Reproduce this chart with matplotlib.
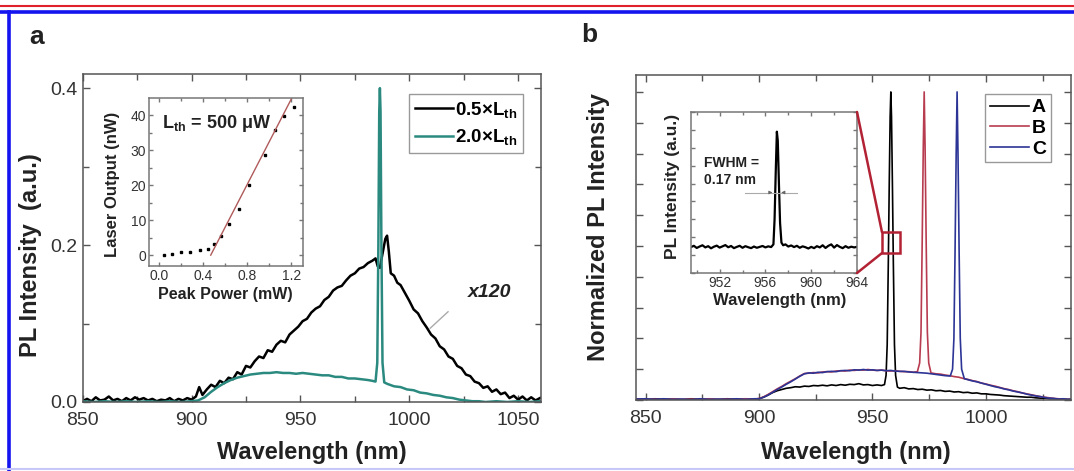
import matplotlib
matplotlib.use('Agg')
import matplotlib.pyplot as plt
import numpy as np
from matplotlib.lines import Line2D
from matplotlib.patches import Rectangle, ConnectionPatch
from matplotlib.ticker import MultipleLocator, NullFormatter

plt.rcParams['font.family'] = ['Liberation Sans', 'DejaVu Sans']
plt.rcParams['mathtext.fontset'] = 'custom'
plt.rcParams['mathtext.rm'] = 'Liberation Sans'
plt.rcParams['mathtext.bf'] = 'Liberation Sans:bold'
plt.rcParams['mathtext.it'] = 'Liberation Sans:italic'

# ---- panel a: PL spectra below / above threshold (wavelength nm, intensity a.u.)
a_below = [(850, 0.001), (852, 0.004), (854, 0.001), (856, 0.006), (858, 0.002), (860, 0.003),
           (862, 0.007), (864, 0.002), (866, 0.004), (868, 0.001), (870, 0.005), (872, 0.002),
           (874, 0.006), (876, 0.003), (878, 0.005), (880, 0.002), (882, 0.004), (884, 0.001),
           (886, 0.003), (888, 0.002), (890, 0.005), (892, 0.001), (894, 0.004), (896, 0.002),
           (898, 0.005), (900, 0.003), (902, 0.007), (903.5, 0.019), (905, 0.009), (907, 0.016),
           (909, 0.022), (911, 0.019), (913, 0.027), (915, 0.024), (917, 0.031), (919, 0.029),
           (921, 0.038), (923, 0.035), (925, 0.046), (927, 0.044), (929, 0.052), (931, 0.058),
           (933, 0.056), (935, 0.066), (937, 0.064), (939, 0.073), (941, 0.078), (943, 0.076),
           (945, 0.086), (947, 0.091), (949, 0.096), (951, 0.103), (953, 0.106), (955, 0.114),
           (957, 0.119), (959, 0.122), (961, 0.130), (963, 0.134), (965, 0.142), (967, 0.146),
           (969, 0.148), (971, 0.155), (973, 0.161), (975, 0.164), (977, 0.170), (979, 0.172),
           (981, 0.177), (983, 0.180), (984.5, 0.183), (985.5, 0.173), (986.5, 0.171),
           (987.5, 0.186), (989, 0.208), (989.8, 0.212), (990.6, 0.192), (991.5, 0.164),
           (993, 0.161), (994.5, 0.152), (996, 0.149), (998, 0.139), (1000, 0.129), (1002, 0.118),
           (1004, 0.113), (1006, 0.103), (1008, 0.095), (1010, 0.086), (1012, 0.081), (1014, 0.071),
           (1016, 0.067), (1018, 0.058), (1020, 0.055), (1022, 0.046), (1024, 0.043), (1026, 0.035),
           (1028, 0.033), (1030, 0.026), (1032, 0.024), (1034, 0.018), (1036, 0.020), (1038, 0.013),
           (1040, 0.016), (1042, 0.010), (1044, 0.012), (1046, 0.005), (1048, 0.008), (1050, 0.003),
           (1052, 0.007), (1054, 0.002), (1056, 0.006), (1058, 0.002), (1060, 0.005)]

a_above = [(850, 0.001), (855, 0.000), (860, 0.001), (865, 0.000), (870, 0.001), (875, 0.000),
           (880, 0.001), (885, 0.000), (890, 0.001), (895, 0.000), (900, 0.001), (903, 0.002),
           (906, 0.006), (909, 0.013), (912, 0.019), (915, 0.024), (918, 0.028), (921, 0.031),
           (924, 0.033), (927, 0.035), (930, 0.036), (933, 0.037), (936, 0.037), (939, 0.038),
           (942, 0.037), (945, 0.037), (948, 0.036), (951, 0.037), (954, 0.036), (957, 0.035),
           (960, 0.034), (963, 0.034), (966, 0.032), (969, 0.032), (972, 0.030), (975, 0.030),
           (978, 0.029), (981, 0.028), (983, 0.027), (984.5, 0.026), (985.3, 0.05), (985.8, 0.2),
           (986.2, 0.37), (986.5, 0.40), (986.8, 0.37), (987.2, 0.2), (987.7, 0.05), (988.5, 0.025),
           (990, 0.023), (993, 0.020), (996, 0.019), (999, 0.016), (1002, 0.015), (1005, 0.012),
           (1008, 0.011), (1011, 0.009), (1014, 0.008), (1017, 0.006), (1020, 0.005), (1023, 0.003),
           (1026, 0.002), (1029, 0.001), (1032, 0.001), (1035, 0.000), (1040, 0.001), (1045, 0.000),
           (1050, 0.001), (1055, 0.000), (1060, 0.001)]

# inset a: light-in / light-out
peak_power = [0.037, 0.115, 0.20, 0.28, 0.366, 0.444, 0.50, 0.557, 0.635, 0.72, 0.81,
              0.964, 1.05, 1.136, 1.227]
laser_out = [0.0, 0.3, 0.76, 1.0, 1.4, 1.9, 3.3, 5.4, 8.9, 13.3, 20.0, 28.6, 35.7, 39.7, 42.4]
fit_x = [0.466, 1.205]
fit_y = [0.0, 45.0]

# ---- panel b: normalized spectra of three cavities
b_A = [(846, 0.003), (850, 0.001), (854, 0.004), (858, 0.002), (862, 0.003), (866, 0.001),
       (870, 0.004), (874, 0.002), (878, 0.003), (882, 0.001), (886, 0.004), (890, 0.002),
       (894, 0.003), (898, 0.002), (900, 0.004), (902, 0.009), (904, 0.016), (906, 0.024),
       (908, 0.030), (910, 0.034), (912, 0.038), (914, 0.040), (916, 0.043), (918, 0.042),
       (920, 0.045), (922, 0.044), (924, 0.047), (926, 0.046), (928, 0.048), (930, 0.046),
       (932, 0.049), (934, 0.047), (936, 0.050), (938, 0.048), (940, 0.051), (942, 0.050),
       (944, 0.053), (946, 0.049), (948, 0.050), (950, 0.047), (952, 0.049), (954, 0.047),
       (955.3, 0.050), (956.0, 0.08), (956.5, 0.18), (957.0, 0.45), (957.4, 0.70),
       (957.8, 0.92), (958.1, 1.0), (958.4, 0.92), (958.8, 0.70), (959.2, 0.45),
       (959.7, 0.18), (960.2, 0.08), (961.0, 0.042), (962, 0.038), (964, 0.040), (966, 0.036),
       (968, 0.037), (970, 0.034), (972, 0.035), (974, 0.032), (976, 0.033), (978, 0.030),
       (980, 0.031), (982, 0.028), (984, 0.029), (986, 0.026), (988, 0.027), (990, 0.024),
       (992, 0.025), (994, 0.022), (996, 0.023), (998, 0.020), (1000, 0.020), (1002, 0.018),
       (1004, 0.017), (1006, 0.016), (1008, 0.014), (1010, 0.013), (1012, 0.012), (1014, 0.011),
       (1016, 0.010), (1018, 0.009), (1020, 0.009), (1022, 0.007), (1024, 0.006), (1026, 0.006),
       (1028, 0.004), (1030, 0.004), (1032, 0.003), (1034, 0.003), (1036, 0.002), (1038, 0.002)]

b_B = [(846, 0.004), (850, 0.002), (854, 0.003), (858, 0.001), (862, 0.004), (866, 0.002),
       (870, 0.003), (874, 0.002), (878, 0.004), (882, 0.002), (886, 0.003), (890, 0.002),
       (894, 0.004), (898, 0.003), (900, 0.005), (902, 0.010), (904, 0.018), (906, 0.027),
       (908, 0.036), (910, 0.044), (912, 0.053), (914, 0.061), (916, 0.069), (918, 0.078),
       (920, 0.086), (922, 0.087), (924, 0.089), (926, 0.088), (928, 0.091), (930, 0.092),
       (932, 0.091), (934, 0.094), (936, 0.095), (938, 0.094), (940, 0.097), (942, 0.096),
       (944, 0.098), (946, 0.097), (948, 0.099), (950, 0.097), (952, 0.096), (954, 0.097),
       (956, 0.095), (958, 0.094), (960, 0.095), (962, 0.093), (964, 0.092), (966, 0.092),
       (968, 0.090), (969.8, 0.092), (970.8, 0.12), (971.4, 0.22), (971.9, 0.50),
       (972.4, 0.82), (972.8, 1.0), (973.2, 0.82), (973.7, 0.50), (974.2, 0.22),
       (974.8, 0.12), (975.8, 0.088), (978, 0.085), (980, 0.084),
       (982, 0.081), (984, 0.079), (986, 0.076), (988, 0.074), (990, 0.070), (992, 0.067),
       (994, 0.063), (996, 0.060), (998, 0.055), (1000, 0.052), (1002, 0.048), (1004, 0.045),
       (1006, 0.041), (1008, 0.037), (1010, 0.034), (1012, 0.030), (1014, 0.027), (1016, 0.023),
       (1018, 0.020), (1020, 0.017), (1022, 0.014), (1024, 0.011), (1026, 0.009), (1028, 0.007),
       (1030, 0.005), (1032, 0.004), (1034, 0.003), (1036, 0.002), (1038, 0.002)]

b_C = [(846, 0.003), (850, 0.004), (854, 0.002), (858, 0.004), (862, 0.002), (866, 0.003),
       (870, 0.001), (874, 0.004), (878, 0.002), (882, 0.003), (886, 0.002), (890, 0.004),
       (894, 0.002), (898, 0.004), (900, 0.004), (902, 0.009), (904, 0.016), (906, 0.025),
       (908, 0.034), (910, 0.042), (912, 0.051), (914, 0.059), (916, 0.068), (918, 0.077),
       (920, 0.085), (922, 0.088), (924, 0.087), (926, 0.090), (928, 0.089), (930, 0.092),
       (932, 0.093), (934, 0.092), (936, 0.095), (938, 0.096), (940, 0.095), (942, 0.098),
       (944, 0.097), (946, 0.099), (948, 0.097), (950, 0.098), (952, 0.096), (954, 0.097),
       (956, 0.095), (958, 0.096), (960, 0.094), (962, 0.093), (964, 0.093), (966, 0.091),
       (968, 0.090), (970, 0.089), (972, 0.088), (974, 0.087), (976, 0.085), (978, 0.083),
       (980, 0.081), (982, 0.079), (984.3, 0.078), (985.3, 0.10), (985.9, 0.20),
       (986.4, 0.48), (986.9, 0.80), (987.3, 1.0), (987.7, 0.80), (988.2, 0.48),
       (988.7, 0.20), (989.3, 0.10), (990.5, 0.069), (992, 0.066),
       (994, 0.062), (996, 0.059), (998, 0.055), (1000, 0.051), (1002, 0.047), (1004, 0.043),
       (1006, 0.040), (1008, 0.036), (1010, 0.033), (1012, 0.029), (1014, 0.026), (1016, 0.023),
       (1018, 0.019), (1020, 0.016), (1022, 0.013), (1024, 0.011), (1026, 0.008), (1028, 0.006),
       (1030, 0.005), (1032, 0.003), (1034, 0.004), (1036, 0.002), (1038, 0.003)]

# inset b: high resolution spectrum of cavity A
hr = [(949.5, 0.145), (949.75, 0.152), (950.0, 0.140), (950.25, 0.148), (950.5, 0.155),
      (950.75, 0.143), (951.0, 0.150), (951.25, 0.138), (951.5, 0.147), (951.75, 0.153),
      (952.0, 0.142), (952.25, 0.149), (952.5, 0.156), (952.75, 0.144), (953.0, 0.151),
      (953.25, 0.139), (953.5, 0.146), (953.75, 0.152), (954.0, 0.141), (954.25, 0.150),
      (954.5, 0.144), (954.75, 0.139), (955.0, 0.148), (955.25, 0.141), (955.5, 0.146),
      (955.75, 0.151), (956.0, 0.143), (956.25, 0.149), (956.5, 0.145), (956.7, 0.16),
      (956.8, 0.30), (956.9, 0.56), (957.0, 0.79), (957.08, 0.74), (957.18, 0.50),
      (957.28, 0.28), (957.4, 0.17), (957.55, 0.155), (957.75, 0.160), (958.0, 0.148),
      (958.25, 0.154), (958.5, 0.145), (958.75, 0.152), (959.0, 0.141), (959.25, 0.149),
      (959.5, 0.144), (959.75, 0.137), (960.0, 0.146), (960.25, 0.139), (960.5, 0.150),
      (960.75, 0.143), (961.0, 0.155), (961.25, 0.140), (961.5, 0.152), (961.75, 0.160),
      (962.0, 0.142), (962.25, 0.156), (962.5, 0.146), (962.75, 0.139), (963.0, 0.150),
      (963.25, 0.141), (963.5, 0.147), (963.75, 0.143), (964.0, 0.146)]
fwhm_x = [954.2, 958.8]
fwhm_y = 0.45
zoom_box = (954.2, 962.1, 0.477, 0.545)
pointer_x = [1009.6, 1017.8]
pointer_y = [0.094, 0.115]

TEAL = '#2b8a80'
RED_B = '#b83c50'
BLUE_C = '#2c3596'
TXT = '#222222'


def style(ax, size, color='#555555', length=5, xpad=7, ypad=4):
    ax.tick_params(which='both', direction='in', top=True, right=True,
                   labelsize=size, colors=color, labelcolor='#333333')
    ax.tick_params(which='major', length=length, width=1)
    ax.tick_params(which='minor', length=length - 1, width=1)
    ax.tick_params(axis='x', pad=xpad)
    ax.tick_params(axis='y', pad=ypad)
    for s in ax.spines.values():
        s.set_color(color)
        s.set_linewidth(1.1)


fig = plt.figure(figsize=(10.74, 4.71), dpi=100)
W, H = 1074.0, 471.0


def box(l, r, t, b):
    return [l / W, 1 - b / H, (r - l) / W, (b - t) / H]


# ---------------- panel a
ax = fig.add_axes(box(82.7, 541, 74, 402))
xa, ya = np.array(a_below).T
xt, yt = np.array(a_above).T
ax.plot(xa, ya, color='black', lw=1.8, label='0.5×L$_{\\mathbf{th}}$')
ax.plot(xt, yt, color=TEAL, lw=1.8, label='2.0×L$_{\\mathbf{th}}$')
ax.plot(pointer_x, pointer_y, color='#aaaaaa', lw=1)
ax.set_xlim(850, 1060.5)
ax.set_ylim(0, 0.418)
ax.set_xticks([850, 900, 950, 1000, 1050])
ax.xaxis.set_minor_locator(MultipleLocator(25))
ax.set_yticks([0.0, 0.2, 0.4])
ax.set_yticklabels(['0.0', '0.2', '0.4'])
ax.yaxis.set_minor_locator(MultipleLocator(0.1))
style(ax, 14)
ax.text(1037, 0.139, 'x120', fontsize=14, fontweight='bold', style='italic',
        ha='center', va='center', color=TXT)
leg = ax.legend(loc='upper right', bbox_to_anchor=(0.961, 0.939),
                prop={'weight': 'bold', 'size': 13.5}, handlelength=2.0, handletextpad=0.15,
                borderpad=0.3, labelspacing=0.4, fancybox=False, framealpha=1,
                edgecolor='#999999', borderaxespad=0)
leg.get_frame().set_linewidth(1)

# inset a
ia = fig.add_axes(box(148.8, 303, 98, 266))
ia.plot(peak_power, laser_out, 's', color='black', ms=1.7)
ia.plot(fit_x, fit_y, color='#b05a5a', lw=1)
ia.set_xlim(-0.097, 1.305)
ia.set_ylim(-3.1, 44.9)
ia.set_xticks([0.0, 0.4, 0.8, 1.2])
ia.set_xticklabels(['0.0', '0.4', '0.8', '1.2'])
ia.xaxis.set_minor_locator(MultipleLocator(0.2))
ia.set_yticks([0, 10, 20, 30, 40])
ia.yaxis.set_minor_locator(MultipleLocator(5))
style(ia, 10, color='#777777', length=3, xpad=2, ypad=2)
ia.text(0.023, 37.7, 'L$_{\\mathbf{th}}$ = 500 μW', fontsize=13, fontweight='bold',
        ha='left', va='center', color=TXT)
fig.text(112 / W, 1 - 184 / H, 'Laser Output (nW)', rotation=90, fontsize=12,
         fontweight='bold', ha='center', va='center', color=TXT)
fig.text(225.6 / W, 1 - 295 / H, 'Peak Power (mW)', fontsize=11.5,
         fontweight='bold', ha='center', va='center', color=TXT)

fig.text(311.7 / W, 1 - 453 / H, 'Wavelength (nm)', fontsize=17, fontweight='bold',
         ha='center', va='center', color=TXT)
fig.text(31 / W, 1 - 255 / H, 'PL Intensity  (a.u.)', rotation=90, fontsize=17,
         fontweight='bold', ha='center', va='center', color=TXT)
fig.text(37 / W, 1 - 37 / H, 'a', fontsize=19, fontweight='bold', ha='center',
         va='center', color=TXT)

# ---------------- panel b
bx = fig.add_axes(box(636, 1071, 75, 400))
for data, col, lab in [(b_A, 'black', 'A'), (b_B, RED_B, 'B'), (b_C, BLUE_C, 'C')]:
    x, y = np.array(data).T
    bx.plot(x, y, color=col, lw=1.2, label=lab)
bx.set_xlim(845.8, 1037.5)
bx.set_ylim(0, 1.055)
bx.set_xticks([850, 900, 950, 1000])
bx.xaxis.set_minor_locator(MultipleLocator(25))
bx.yaxis.set_major_locator(MultipleLocator(0.1))
bx.yaxis.set_major_formatter(NullFormatter())
style(bx, 14)
leg2 = bx.legend(loc='upper right', bbox_to_anchor=(0.954, 0.9415),
                 prop={'weight': 'bold', 'size': 14}, handlelength=2.0, handletextpad=0.15,
                 borderpad=0.25, labelspacing=0.15, fancybox=False, framealpha=1,
                 edgecolor='#999999', borderaxespad=0)
leg2.get_frame().set_linewidth(1)
x0, x1, y0, y1 = zoom_box
bx.add_patch(Rectangle((x0, y0), x1 - x0, y1 - y0, fill=False, edgecolor='#b22234', lw=1.8,
                       zorder=5))

# inset b
ib = fig.add_axes(box(691, 857, 112, 273))
hx, hy = np.array(hr).T
ib.plot(hx, hy, color='black', lw=1.6)
ib.set_xlim(949.5, 964)
ib.set_ylim(0, 0.9)
ib.set_xticks([952, 956, 960, 964])
ib.xaxis.set_minor_locator(MultipleLocator(2))
ib.yaxis.set_major_locator(MultipleLocator(0.1))
ib.yaxis.set_major_formatter(NullFormatter())
style(ib, 10, color='#777777', length=3, xpad=2, ypad=2)
ib.plot(fwhm_x, [fwhm_y, fwhm_y], color='#aaaaaa', lw=0.8)
ib.annotate('', xy=(956.86, fwhm_y), xytext=(956.2, fwhm_y),
            arrowprops=dict(arrowstyle='-|>', color='#666666', lw=0.6, mutation_scale=5))
ib.annotate('', xy=(957.14, fwhm_y), xytext=(957.8, fwhm_y),
            arrowprops=dict(arrowstyle='-|>', color='#666666', lw=0.6, mutation_scale=5))
ib.text(950.6, 0.615, 'FWHM =', fontsize=10, fontweight='bold', ha='left', va='center',
        color=TXT)
ib.text(950.6, 0.52, '0.17 nm', fontsize=10, fontweight='bold', ha='left', va='center',
        color=TXT)
fig.text(673 / W, 1 - 186 / H, 'PL Intensity (a.u.)', rotation=90, fontsize=12.5,
         fontweight='bold', ha='center', va='center', color=TXT)
fig.text(780 / W, 1 - 301 / H, 'Wavelength (nm)', fontsize=12, fontweight='bold',
         ha='center', va='center', color=TXT)

for ya_, yb_ in [(1, y1), (0, y0)]:
    con = ConnectionPatch(xyA=(1, ya_), coordsA=ib.transAxes, xyB=(x0, yb_),
                          coordsB=bx.transData, color='#b22234', lw=1.8)
    fig.add_artist(con)

fig.text(856 / W, 1 - 452 / H, 'Wavelength (nm)', fontsize=17, fontweight='bold',
         ha='center', va='center', color=TXT)
fig.text(598 / W, 1 - 227 / H, 'Normalized PL Intensity', rotation=90, fontsize=17,
         fontweight='bold', ha='center', va='center', color=TXT)
fig.text(589 / W, 1 - 35 / H, 'b', fontsize=19, fontweight='bold', ha='center',
         va='center', color=TXT)

# page frame lines seen in the screenshot
fig.add_artist(Line2D([0, 1], [1 - 5.5 / H] * 2, transform=fig.transFigure,
                      color='#e0202a', lw=1.5))
fig.add_artist(Line2D([0, 1], [1 - 12 / H] * 2, transform=fig.transFigure,
                      color='#1414f0', lw=2.6))
fig.add_artist(Line2D([9 / W] * 2, [0, 1 - 12 / H], transform=fig.transFigure,
                      color='#1414f0', lw=2.6))
fig.add_artist(Line2D([0, 1], [2.5 / H] * 2, transform=fig.transFigure,
                      color='#c8c8f8', lw=1.5))

fig.savefig('out.png', dpi=100, facecolor='white')
